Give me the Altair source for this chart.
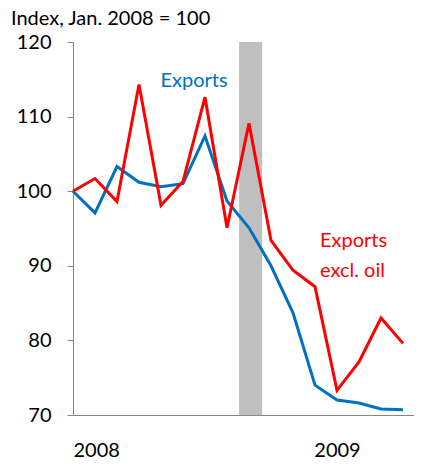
import altair as alt
import pandas as pd

months = list(range(16))
exports = [100, 97.1, 103.3, 101.2, 100.6, 101.0, 107.4, 98.7, 95.1, 90.0, 83.7, 74.0, 72.0, 71.6, 70.8, 70.7]
exports_ex_oil = [100, 101.7, 98.6, 114.3, 98.1, 101.3, 112.6, 95.1, 109.1, 93.4, 89.4, 87.2, 73.3, 77.1, 83.0, 79.6]
band_start = [7.55]
band_end = [8.6]

FONT = "Lato"
BLUE = "#0070C0"
RED = "#FF0000"

df = pd.DataFrame({
    "m": months * 2,
    "v": exports + exports_ex_oil,
    "s": ["Exports"] * 16 + ["Exports excl. oil"] * 16,
})
band = pd.DataFrame({"x0": band_start, "x1": band_end})

xscale = alt.Scale(domain=[0, 15.5], nice=False, zero=False)
yscale = alt.Scale(domain=[70, 120], nice=False, zero=False)

bars = alt.Chart(band).mark_rect(color="#BFBFBF").encode(
    x=alt.X("x0:Q", scale=xscale),
    x2="x1:Q",
    y=alt.value(0),
    y2=alt.value(373),
)

lines = alt.Chart(df).mark_line(strokeWidth=3).encode(
    x=alt.X("m:Q", scale=xscale,
            axis=alt.Axis(values=[0, 12], labelExpr="datum.value == 0 ? '2008' : '2009'",
                          ticks=False, grid=False, title=None, labelPadding=25,
                          domainColor="#868686", labelFont=FONT, labelFontSize=20,
                          labelColor="black")),
    y=alt.Y("v:Q", scale=yscale,
            axis=alt.Axis(values=[70, 80, 90, 100, 110, 120], grid=False, title=None,
                          tickSize=6, tickColor="#868686", domainColor="#868686",
                          labelPadding=16, labelFont=FONT, labelFontSize=20,
                          labelColor="black")),
    color=alt.Color("s:N", scale=alt.Scale(domain=["Exports", "Exports excl. oil"],
                                          range=[BLUE, RED]), legend=None),
)

def label(text, x, y, color, align="left", size=20):
    return alt.Chart(pd.DataFrame({"t": [text]})).mark_text(
        font=FONT, fontSize=size, color=color, align=align, baseline="alphabetic"
    ).encode(text="t:N", x=alt.value(x), y=alt.value(y))

title = label("Index, Jan. 2008 = 100", -62, -17, "black")
t1 = label("Exports", 121, 45, BLUE, "center")
t2 = label("Exports", 247, 205, RED)
t3 = label("excl. oil", 247, 235, RED)

chart = alt.layer(bars, lines, title, t1, t2, t3).properties(
    width=341, height=373,
    autosize=alt.AutoSizeParams(type="none"),
    padding={"left": 65, "top": 34, "right": 0, "bottom": 45},
).configure_view(stroke=None)

chart.save("out.html", embed_options={"renderer": "svg", "actions": False})
